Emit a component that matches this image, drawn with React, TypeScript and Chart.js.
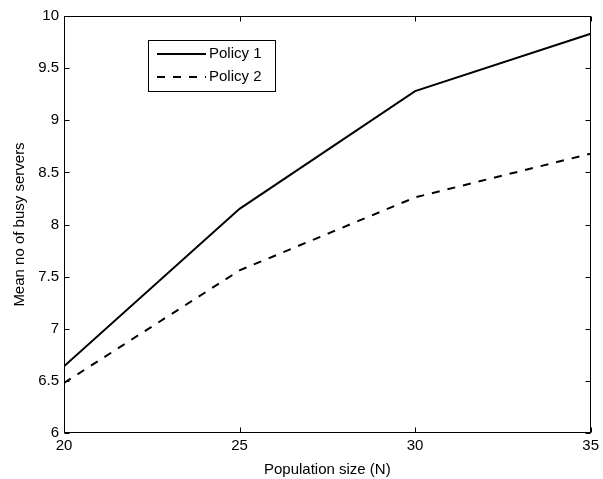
import React, { useEffect, useRef } from "react";
import { Chart, registerables } from "chart.js";

Chart.register(...registerables);

const populationSizes = [20, 25, 30, 35];
const policy1 = [6.64, 8.15, 9.28, 9.83];
const policy2 = [6.48, 7.56, 8.26, 8.68];
const xTicks = [20, 25, 30, 35];
const yTicks = [6, 6.5, 7, 7.5, 8, 8.5, 9, 9.5, 10];

const FONT = "'Liberation Sans', Arial, Helvetica, sans-serif";
const FS = 15;

const matlabAxes = {
  id: "matlabAxes",
  afterDraw(chart: any) {
    const { ctx, chartArea: a, scales } = chart;
    const xs = scales.x;
    const ys = scales.y;
    ctx.save();
    ctx.strokeStyle = "#000";
    ctx.lineWidth = 1;
    ctx.setLineDash([]);
    const L = Math.round(a.left) + 0.5;
    const R = Math.round(a.right) - 0.5;
    const T = Math.round(a.top) + 0.5;
    const B = Math.round(a.bottom) - 0.5;
    ctx.strokeRect(L, T, R - L, B - T);
    const tl = 5;
    ctx.beginPath();
    xTicks.forEach((v) => {
      const px = Math.round(xs.getPixelForValue(v)) + 0.5;
      ctx.moveTo(px, B);
      ctx.lineTo(px, B - tl);
      ctx.moveTo(px, T);
      ctx.lineTo(px, T + tl);
    });
    yTicks.forEach((v) => {
      const py = Math.round(ys.getPixelForValue(v)) + 0.5;
      ctx.moveTo(L, py);
      ctx.lineTo(L + tl, py);
      ctx.moveTo(R, py);
      ctx.lineTo(R - tl, py);
    });
    ctx.stroke();

    // legend
    const lx = 148, ly = 40, lw = 127, lh = 51;
    ctx.fillStyle = "#fff";
    ctx.fillRect(lx, ly, lw, lh);
    ctx.lineWidth = 1;
    ctx.strokeRect(lx + 0.5, ly + 0.5, lw, lh);
    chart.data.datasets.forEach((ds: any, i: number) => {
      const y = ly + 14 + i * 23;
      ctx.beginPath();
      ctx.lineWidth = 2;
      ctx.setLineDash(ds.borderDash || []);
      ctx.moveTo(157, y);
      ctx.lineTo(206, y);
      ctx.stroke();
      ctx.setLineDash([]);
      ctx.fillStyle = "#000";
      ctx.font = `${FS}px ${FONT}`;
      ctx.textBaseline = "middle";
      ctx.textAlign = "left";
      ctx.fillText(ds.label, 209, y);
    });
    ctx.restore();
  },
};

const fmt = (v: any) => String(Number(v));

export default function App() {
  const ref = useRef<HTMLCanvasElement>(null);
  useEffect(() => {
    document.body.style.margin = "0";
    const chart = new Chart(ref.current!, {
      type: "line",
      data: {
        datasets: [
          {
            label: "Policy 1",
            data: populationSizes.map((x, i) => ({ x, y: policy1[i] })),
            borderColor: "#000",
            borderWidth: 2,
            pointRadius: 0,
            fill: false,
            tension: 0,
          },
          {
            label: "Policy 2",
            data: populationSizes.map((x, i) => ({ x, y: policy2[i] })),
            borderColor: "#000",
            borderWidth: 2,
            borderDash: [8, 8],
            pointRadius: 0,
            fill: false,
            tension: 0,
          },
        ],
      },
      options: {
        animation: false,
        responsive: false,
        maintainAspectRatio: false,
        layout: { padding: { top: 16, right: 11, left: 0, bottom: 0 } },
        plugins: { legend: { display: false }, tooltip: { enabled: false } },
        scales: {
          x: {
            type: "linear",
            min: 20,
            max: 35,
            afterBuildTicks: (s: any) => {
              s.ticks = xTicks.map((v) => ({ value: v }));
            },
            afterFit: (s: any) => {
              s.height = 46;
            },
            grid: { display: false, drawTicks: false },
            border: { display: false },
            ticks: { color: "#000", font: { family: FONT, size: FS }, padding: 4, maxRotation: 0, callback: fmt },
            title: {
              display: true,
              text: "Population size (N)",
              color: "#000",
              font: { family: FONT, size: FS },
              padding: { top: 2, bottom: 0 },
            },
          },
          y: {
            type: "linear",
            min: 6,
            max: 10,
            afterBuildTicks: (s: any) => {
              s.ticks = yTicks.map((v) => ({ value: v }));
            },
            afterFit: (s: any) => {
              s.width = 64;
            },
            grid: { display: false, drawTicks: false },
            border: { display: false },
            ticks: { color: "#000", font: { family: FONT, size: FS }, padding: 5, callback: fmt },
            title: {
              display: true,
              text: "Mean no of busy servers",
              color: "#000",
              font: { family: FONT, size: FS },
              padding: { top: 11, bottom: 0 },
            },
          },
        },
      },
      plugins: [matlabAxes],
    });
    return () => chart.destroy();
  }, []);
  return (
    <div style={{ width: 603, height: 479, background: "#fff" }}>
      <canvas ref={ref} width={603} height={479} style={{ display: "block" }} />
    </div>
  );
}
